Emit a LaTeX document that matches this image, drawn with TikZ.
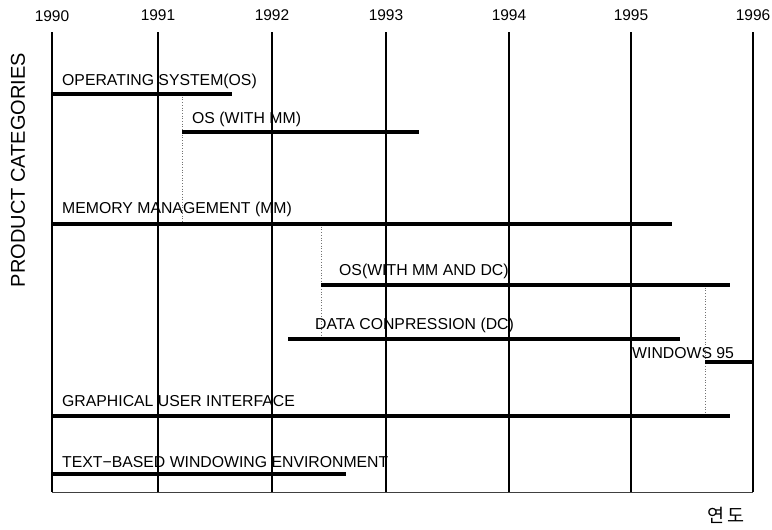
\documentclass[tikz,border=0pt]{standalone}
\usepackage{fontspec}
\setmainfont{Liberation Sans}
\newfontfamily\krfont{Noto Sans CJK KR}
\begin{document}
\begin{tikzpicture}[x=1pt,y=-1pt,
  yearline/.style={line width=1.3pt,black},
  bar/.style={line width=3.2pt,black},
  link/.style={line width=0.7pt,black!55,dotted},
  yearlab/.style={font=\fontsize{15.5}{18}\selectfont,anchor=base,inner sep=0pt},
  catlab/.style={font=\fontsize{15.8}{18}\selectfont,anchor=base west,inner sep=0pt}]
\useasboundingbox[fill=white] (0,0) rectangle (772,530);
% year grid
\foreach \x/\yr/\b in {52/1990/21.5,158/1991/20,272/1992/20,386/1993/20,509/1994/20,631/1995/20,753/1996/20}{
  \node[yearlab] (y\yr) at (\x,\b) {\yr};
  \draw[yearline] (\x,32) -- (\x,492);
}
\draw[line width=1pt,black!75] (52,492) -- (753,492);
% dotted links
\draw[link] (182,94) -- (182,224);
\draw[link] (321,224) -- (321,339);
\draw[link] (705,285) -- (705,416);
% bars
\draw[bar] (52,94) -- (232,94);
\draw[bar] (182,132) -- (419,132);
\draw[bar] (52,224) -- (672,224);
\draw[bar] (321,285) -- (730,285);
\draw[bar] (288,339) -- (680,339);
\draw[bar] (705,362) -- (753,362);
\draw[bar] (52,416) -- (730,416);
\draw[bar] (52,474) -- (346,474);
% labels
\node[catlab] (os) at (62,85) {OPERATING SYSTEM(OS)};
\node[catlab] (osmm) at (192,123) {OS (WITH MM)};
\node[catlab] (mm) at (62,213) {MEMORY MANAGEMENT (MM)};
\node[catlab] (osmmdc) at (339,275) {OS(WITH MM AND DC)};
\node[catlab] (dc) at (315,329) {DATA CONPRESSION (DC)};
\node[catlab] (win) at (632,358) {WINDOWS 95};
\node[catlab] (gui) at (62,406) {GRAPHICAL USER INTERFACE};
\node[catlab] (txt) at (62,467) {TEXT\char"2212 BASED WINDOWING ENVIRONMENT};
% axis titles
\node[rotate=90,font=\fontsize{20}{24}\selectfont,inner sep=0pt] (cat) at (18,170) {PRODUCT CATEGORIES};
\node[font=\krfont\fontsize{18.5}{22}\selectfont,inner sep=0pt] (yeon) at (726,515) {연\kern3pt 도};
\end{tikzpicture}
\end{document}
